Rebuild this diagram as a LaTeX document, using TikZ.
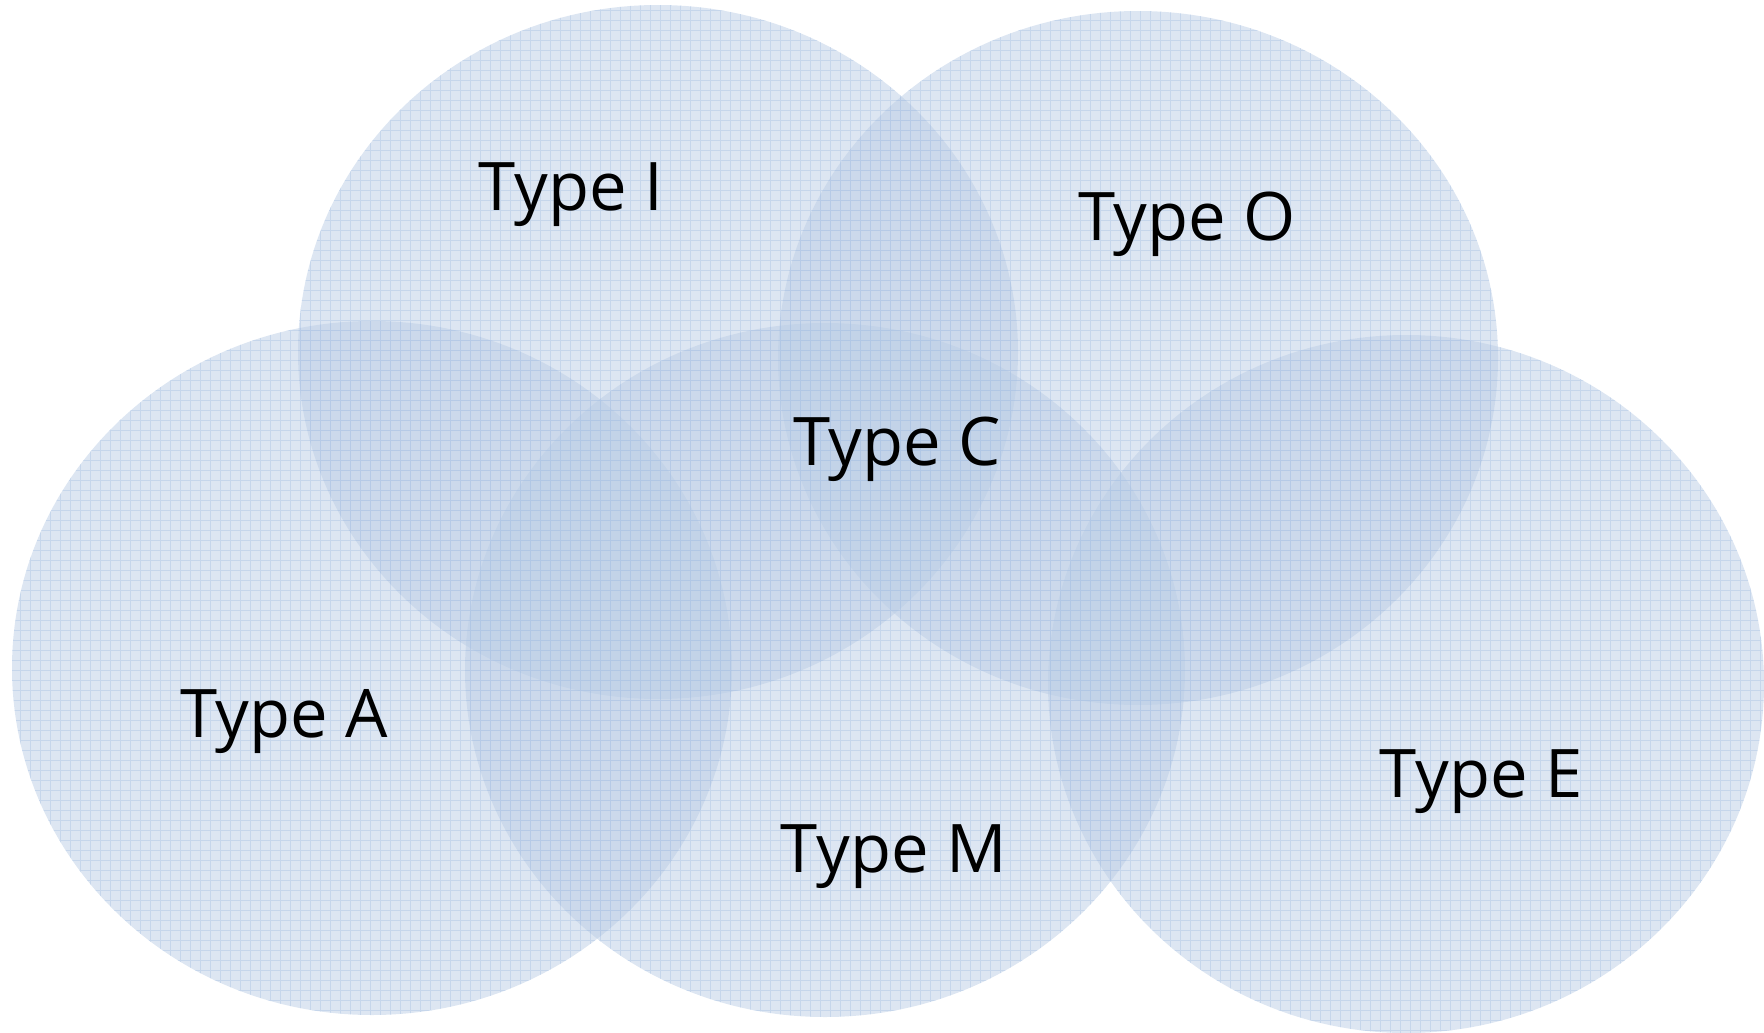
\documentclass[tikz,border=0pt]{standalone}
\usepackage{fontspec}
\setmainfont{Open Sans}
\usepackage{tikz}
\usetikzlibrary{positioning}
\definecolor{blobfill}{RGB}{187,205,229}
\definecolor{blobgrid}{RGB}{170,195,228}
\tikzstyle{blob} = [fill=blobfill, fill opacity=0.5]
\tikzstyle{gridline} = [step=10pt, blobgrid, line width=0.8pt, opacity=0.45]
\tikzstyle{lbl} = [font=\fontsize{67}{80}\selectfont, anchor=base, inner sep=0pt]

\begin{document}
\begin{tikzpicture}[x=1pt,y=-1pt]
      \useasboundingbox (0,0) rectangle (1764,1033);
      %%%%%%%%%%%%%%%%%%%%%%%%%%%%%%%%%%%%%%%
      \foreach \cx/\cy/\rx/\ry in {658/352/360/347, 1138/358/360/347, 372/668/360/347, 825/670/360/347, 1406/684/358/349}{
        \fill[blob] (\cx,\cy) ellipse (\rx pt and \ry pt);
        \begin{scope}
          \clip (\cx,\cy) ellipse (\rx pt and \ry pt);
          \draw[gridline] (\cx-\rx,\cy-\ry) grid (\cx+\rx,\cy+\ry);
        \end{scope}
      }
      %%%%%%%%%%%%%%%%%%%%%%%%%%%%%%%%%%%%%%%
      \node (tI) [lbl] at (571,210) {Type I};
      \node (tO) [lbl] at (1187,240) {Type O};
      \node (tC) [lbl] at (897,465) {Type C};
      \node (tA) [lbl] at (284,737) {Type A};
      \node (tM) [lbl] at (894,872) {Type M};
      \node (tE) [lbl] at (1481,797) {Type E};
\end{tikzpicture}
\end{document}
